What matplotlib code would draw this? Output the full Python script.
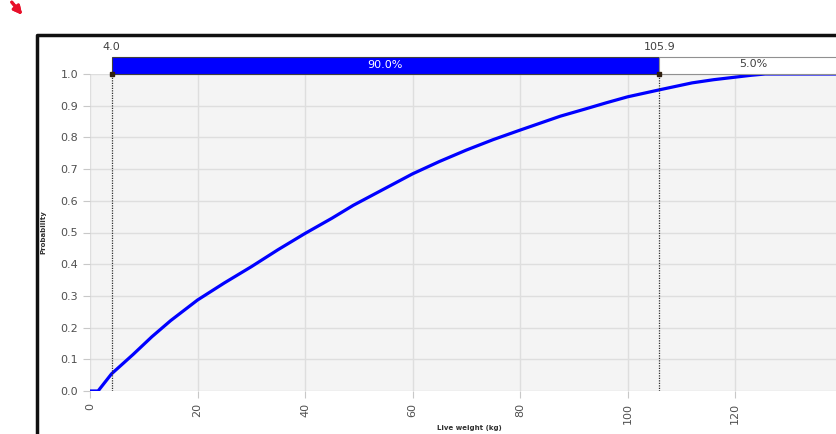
import matplotlib.pyplot as plt
from matplotlib.lines import Line2D
from matplotlib.patches import Rectangle

weight = [0, 1.5, 4.0, 8, 11.5, 15, 20, 25, 30, 35, 40, 45, 49, 55, 60, 65, 70, 75, 80,
          87.5, 92, 96, 100, 105.9, 112, 116, 120, 123, 125.6, 141]
prob = [0, 0, 0.054, 0.115, 0.171, 0.222, 0.287, 0.341, 0.392, 0.446, 0.497, 0.545, 0.586,
        0.640, 0.685, 0.724, 0.76, 0.793, 0.823, 0.867, 0.889, 0.909, 0.928, 0.95, 0.972,
        0.982, 0.99, 0.996, 1.0, 1.0]

low, high = 4.0, 105.9
band_labels = ['90.0%', '5.0%']
x_ticks = [0, 20, 40, 60, 80, 100, 120, 140]
y_ticks = [0.0, 0.1, 0.2, 0.3, 0.4, 0.5, 0.6, 0.7, 0.8, 0.9, 1.0]
x_max = 141

W, H = 837, 434
fig = plt.figure(figsize=(W / 100, H / 100), dpi=100)
ax = fig.add_axes([90 / W, 43 / H, 758 / W, 317 / H])
ax.set_facecolor('#f4f4f4')

ax.plot(weight, prob, color='#0000ff', lw=2.3, solid_capstyle='round', zorder=3)

ax.set_xlim(0, x_max)
ax.set_ylim(0, 1.0)
ax.set_xticks(x_ticks)
ax.set_yticks(y_ticks)
ax.set_xticklabels([str(t) for t in x_ticks], rotation=90)
ax.set_yticklabels([f'{t:.1f}' for t in y_ticks])
ax.tick_params(colors='#c8c8c8', labelcolor='#505050', labelsize=8, length=5)
ax.grid(True, color='#dedede', lw=1)
for s in ax.spines.values():
    s.set_visible(False)

ax.set_xlabel('Live weight (kg)', fontsize=5, fontweight='bold', color='#303030', labelpad=1)
ax.set_ylabel('Probability', fontsize=5, fontweight='bold', color='#303030', labelpad=10)

# bandas de percentiles encima del grafico
band_h = 17 / 317
trans = ax.get_xaxis_transform()
ax.add_patch(Rectangle((low, 1.0), high - low, band_h, transform=trans, clip_on=False,
                       facecolor='#0000ff', edgecolor='#404040', lw=0.8, zorder=4))
ax.add_patch(Rectangle((high, 1.0), x_max - high, band_h, transform=trans, clip_on=False,
                       facecolor='white', edgecolor='#909090', lw=0.8, zorder=4))
ax.text((low + high) / 2, 1.0 + band_h / 2, band_labels[0], transform=trans, color='white',
        fontsize=8, ha='center', va='center', zorder=5)
ax.text((high + x_max) / 2, 1.0 + band_h / 2 + 0.004, band_labels[1], transform=trans, color='#404040',
        fontsize=8, ha='center', va='center', zorder=5)

for v in (low, high):
    ax.axvline(v, color='#303030', lw=0.9, ls=(0, (1, 1)), zorder=4)
    ax.plot([v], [1.0], marker='s', ms=2.5, color='#302010', clip_on=False, zorder=6)
    ax.text(v, 1.085, f'{v:.1f}', transform=trans, fontsize=8, color='#404040',
            ha='center', va='center')

# marco negro de la captura
fig.add_artist(Line2D([37 / W, 37 / W, 1.01], [-0.01, 1 - 35 / H, 1 - 35 / H],
                      transform=fig.transFigure, color='#101010', lw=2.5))

# flecha roja en la esquina
fig.add_artist(plt.annotate('', xy=(24 / W, 1 - 17 / H), xytext=(10 / W, 1.0),
                            xycoords='figure fraction', textcoords='figure fraction',
                            arrowprops=dict(arrowstyle='-|>', color='#e8102a', lw=2.2,
                                            mutation_scale=12)))

fig.savefig('out.png', dpi=100)
